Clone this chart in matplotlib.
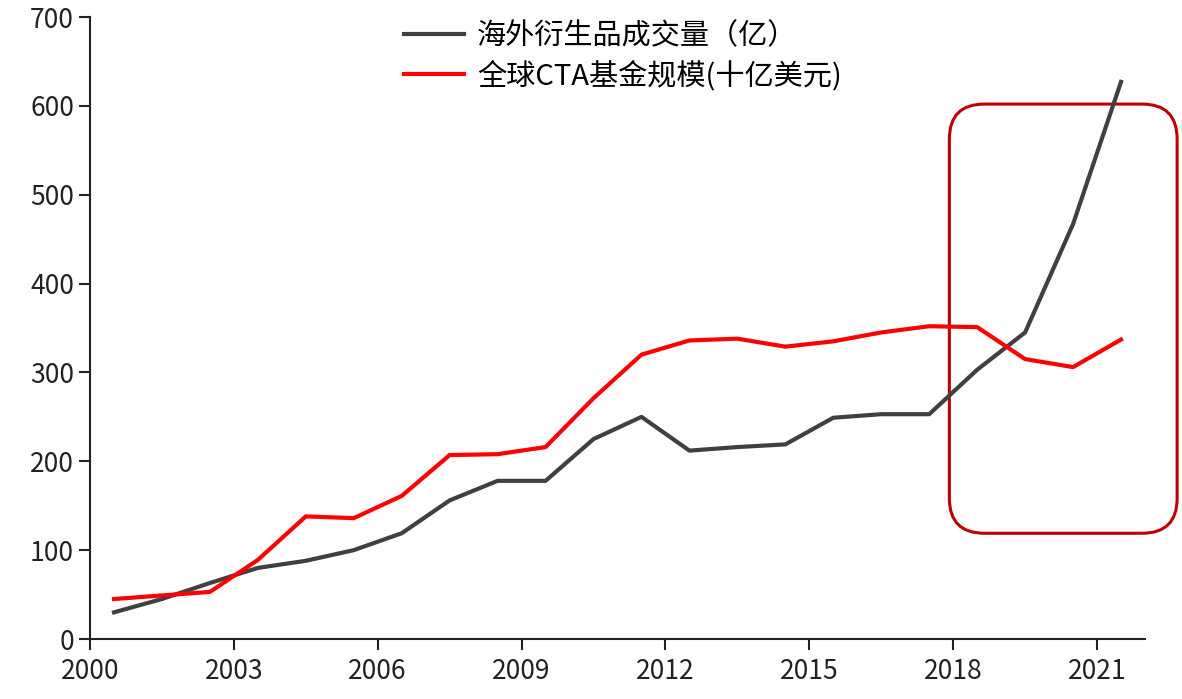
import matplotlib
matplotlib.use("Agg")
import matplotlib.pyplot as plt
from matplotlib.patches import FancyBboxPatch

plt.rcParams['font.family'] = ['Noto Sans CJK SC', 'DejaVu Sans']

# yearly points, plotted at mid-year
years = list(range(2000, 2022))
derivatives_volume = [30, 45, 63, 80, 88, 100, 119, 156, 178, 178, 225, 250,
                      212, 216, 219, 249, 253, 253, 303, 345, 467, 627]
cta_aum = [45, 49, 53, 89, 138, 136, 161, 207, 208, 216, 271, 320,
           336, 338, 329, 335, 345, 352, 351, 315, 306, 337]
tick_years = [2000, 2003, 2006, 2009, 2012, 2015, 2018, 2021]
y_ticks = [0, 100, 200, 300, 400, 500, 600, 700]

x = [y + 0.5 for y in years]

fig = plt.figure(figsize=(11.82, 6.99), dpi=100)
ax = fig.add_axes([90 / 1182, 60 / 699, 1055 / 1182, 622 / 699])

ax.plot(x, derivatives_volume, color='#404040', lw=3, label='海外衍生品成交量（亿）')
ax.plot(x, cta_aum, color='#ff0000', lw=3, label='全球CTA基金规模(十亿美元)')

ax.set_xlim(2000, 2022)
ax.set_ylim(0, 700)
ax.set_xticks(tick_years)
ax.set_yticks(y_ticks)
ax.tick_params(labelsize=19, length=8, width=1.5, colors='#222222')
ax.tick_params(axis='x', pad=6)
for s in ['top', 'right']:
    ax.spines[s].set_visible(False)
for s in ['left', 'bottom']:
    ax.spines[s].set_linewidth(1.5)
    ax.spines[s].set_color('#222222')

leg = ax.legend(loc='upper center', bbox_to_anchor=(0.505, 1.035), frameon=False,
                fontsize=21, handlelength=2.05, handletextpad=0.45, labelspacing=0.3)

# highlight box around the last years
box = FancyBboxPatch((2017.92, 119), 4.75, 483,
                     boxstyle='round,pad=0,rounding_size=0.73',
                     mutation_aspect=54, fill=False, edgecolor='#c00000',
                     lw=2.2, clip_on=False)
ax.add_patch(box)

fig.savefig('out.png', dpi=100)
